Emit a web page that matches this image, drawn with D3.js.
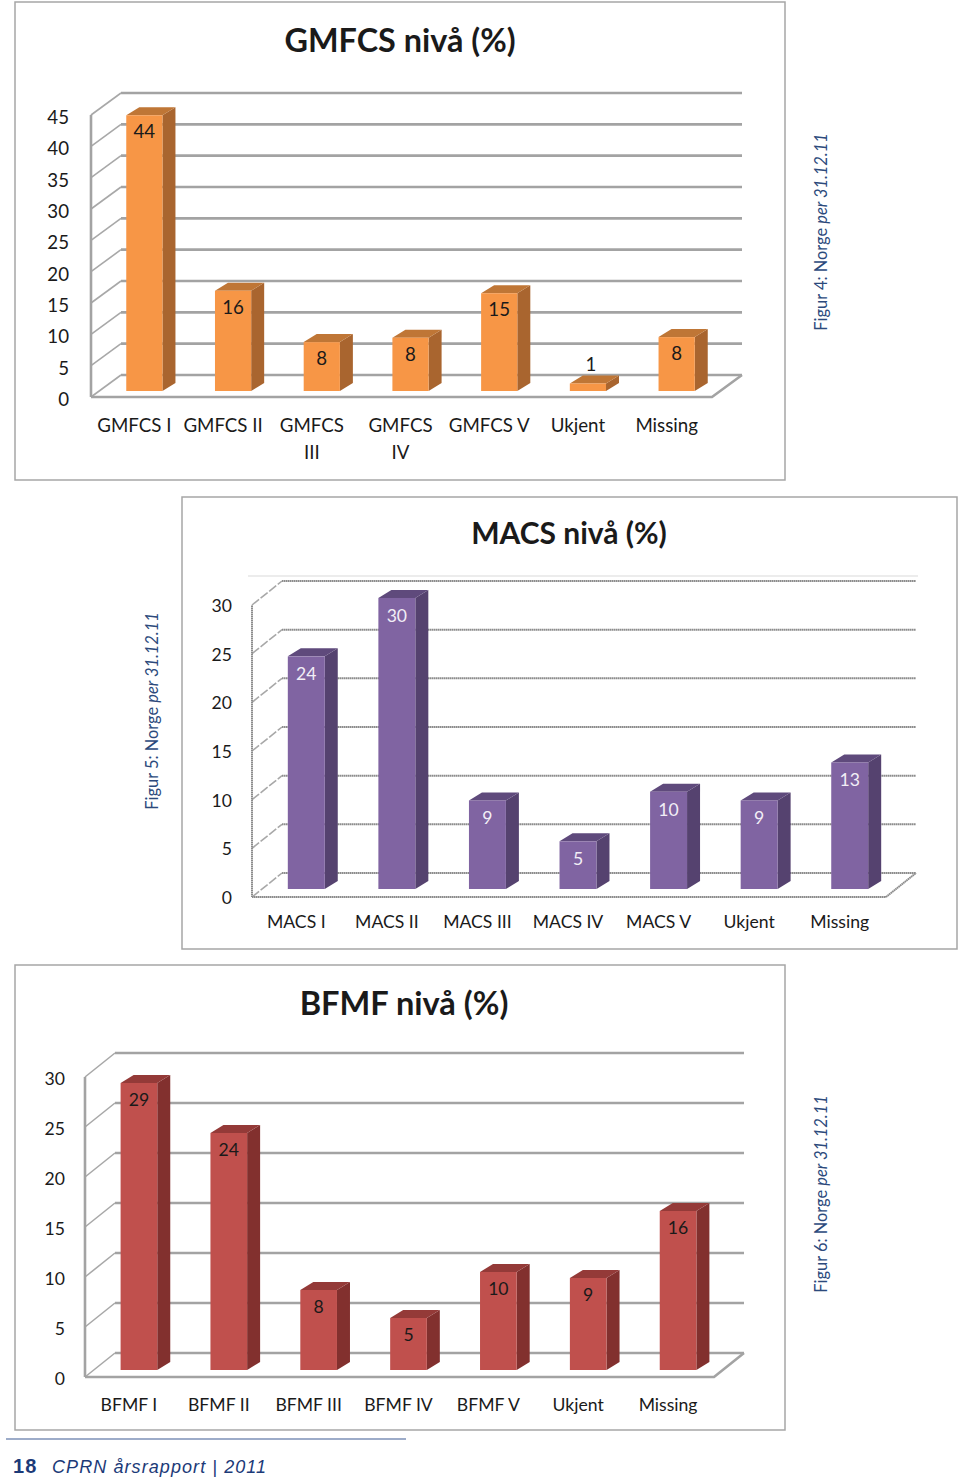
<!DOCTYPE html>
<html>
<head>
<meta charset="utf-8">
<script src="https://cdn.jsdelivr.net/npm/d3@7"></script>
<style>
  html, body { margin: 0; padding: 0; background: white; }
  text { font-family: Lato, "Open Sans", sans-serif; fill: #1a1a1a; }
</style>
</head>
<body>
<div id="root"></div>
<script>
const gmfcsCategories = ["GMFCS I", "GMFCS II", "GMFCS\nIII", "GMFCS\nIV", "GMFCS V", "Ukjent", "Missing"];
const gmfcsValues = [44, 16, 7.8, 8.5, 15.6, 1.2, 8.6];
const gmfcsLabels = ["44", "16", "8", "8", "15", "1", "8"];
const gmfcsTicks = [0, 5, 10, 15, 20, 25, 30, 35, 40, 45];

const macsCategories = ["MACS I", "MACS II", "MACS III", "MACS IV", "MACS V", "Ukjent", "Missing"];
const macsValues = [23.9, 29.9, 9.1, 4.9, 10, 9.1, 13];
const macsLabels = ["24", "30", "9", "5", "10", "9", "13"];
const macsTicks = [0, 5, 10, 15, 20, 25, 30];

const bfmfCategories = ["BFMF I", "BFMF II", "BFMF III", "BFMF IV", "BFMF V", "Ukjent", "Missing"];
const bfmfValues = [28.7, 23.7, 8, 5.2, 9.8, 9.2, 15.9];
const bfmfLabels = ["29", "24", "8", "5", "10", "9", "16"];
const bfmfTicks = [0, 5, 10, 15, 20, 25, 30];

const charts = [
  {
    title: "GMFCS nivå (%)", categories: gmfcsCategories, values: gmfcsValues, labels: gmfcsLabels, ticks: gmfcsTicks,
    frame: [15, 2, 770, 478], titleX: 400, titleY: 52, titleSize: 32.4, textSize: 18.7,
    x0: 91, x1: 712, y0: 397, yTop: 115, maxTick: 45, wallDx: 30, wallDy: 22, barLift: 6,
    tickX: 69, tickShift: 2.5, catY: 432, gridWidth: 2.6, gridColor: "#a3a3a3", gridDash: null, slantDash: null, labelColor: "#1a1a1a", labelDy: 23,
    front: "#f79646", side: "#a9652f", top: "#bf7636",
    caption: "Figur 4: Norge", captionX: 827, captionY: 232
  },
  {
    title: "MACS nivå (%)", categories: macsCategories, values: macsValues, labels: macsLabels, ticks: macsTicks,
    frame: [182, 497, 775, 452], titleX: 569, titleY: 544, titleSize: 30, textSize: 17.6,
    x0: 252, x1: 886, y0: 897, yTop: 605, maxTick: 30, wallDx: 30, wallDy: 24, barLift: 8,
    tickX: 232, tickShift: 1, catY: 928, gridWidth: 2, gridColor: "#8c8c8c", gridDash: "1.6 0.4", slantDash: "9 2", labelColor: "#f2eef6", labelDy: 24,
    front: "#8064a2", side: "#55426f", top: "#5f4a7c", ceiling: 576,
    caption: "Figur 5: Norge", captionX: 158, captionY: 711
  },
  {
    title: "BFMF nivå (%)", categories: bfmfCategories, values: bfmfValues, labels: bfmfLabels, ticks: bfmfTicks,
    frame: [15, 965, 770, 465], titleX: 404, titleY: 1015, titleSize: 32.6, textSize: 17.6,
    x0: 85, x1: 714, y0: 1377, yTop: 1077, maxTick: 30, wallDx: 30, wallDy: 24, barLift: 7,
    tickX: 65, tickShift: 2, catY: 1411, gridWidth: 2.6, gridColor: "#a3a3a3", gridDash: null, slantDash: null, labelColor: "#1a1a1a", labelDy: 23,
    front: "#c0504d", side: "#82302e", top: "#943a38",
    caption: "Figur 6: Norge", captionX: 827, captionY: 1194
  }
];

const svg = d3.select("#root").append("svg")
  .attr("width", 960)
  .attr("height", 1482)
  .style("display", "block");

charts.forEach(c => drawChart(svg, c));
drawFooter(svg);

function drawChart(svg, c) {
  const g = svg.append("g");

  g.append("rect")
    .attr("x", c.frame[0]).attr("y", c.frame[1])
    .attr("width", c.frame[2]).attr("height", c.frame[3])
    .attr("fill", "white").attr("stroke", "#a6a6a6").attr("stroke-width", 1.5);

  g.append("text")
    .text(c.title)
    .attr("x", c.titleX).attr("y", c.titleY)
    .attr("text-anchor", "middle")
    .style("font-size", c.titleSize + "px").style("font-weight", 700);

  const xScale = d3.scaleBand().domain(c.categories).range([c.x0, c.x1]).paddingInner(0.592).paddingOuter(0.296);
  const yScale = d3.scaleLinear().domain([0, c.maxTick]).range([c.y0, c.yTop]);

  walls(g, c, yScale);
  bars(g, c, xScale, yScale);
  axes(g, c, xScale, yScale);
  caption(g, c);
}

function walls(g, c, yScale) {
  const dx = c.wallDx, dy = c.wallDy;
  const grid = g.append("g").attr("fill", "none").attr("stroke", c.gridColor);

  // faint line over the plot, only the MACS chart has it
  if (c.ceiling) {
    grid.append("line")
      .attr("x1", c.x0 - 4).attr("x2", c.x1 + dx + 2)
      .attr("y1", c.ceiling).attr("y2", c.ceiling)
      .attr("stroke", "#e6e6e6").attr("stroke-width", 1.5);
  }

  // back wall lines, then the slanted ones on the side wall
  grid.selectAll("line.back").data(c.ticks).enter().append("line")
    .attr("class", "back")
    .attr("x1", c.x0 + dx).attr("x2", c.x1 + dx)
    .attr("y1", d => yScale(d) - dy).attr("y2", d => yScale(d) - dy)
    .attr("stroke-width", c.gridWidth)
    .attr("stroke-dasharray", c.gridDash);

  grid.selectAll("line.slant").data(c.ticks).enter().append("line")
    .attr("class", "slant")
    .attr("x1", c.x0).attr("x2", c.x0 + dx)
    .attr("y1", d => yScale(d)).attr("y2", d => yScale(d) - dy)
    .attr("stroke-width", 1.6)
    .attr("stroke", "#a8a8a8")
    .attr("stroke-dasharray", c.slantDash);

  grid.append("line")
    .attr("x1", c.x0).attr("x2", c.x0)
    .attr("y1", yScale(0)).attr("y2", yScale(c.maxTick))
    .attr("stroke-width", c.gridWidth)
    .attr("stroke-dasharray", c.gridDash);

  grid.append("path")
    .attr("d", `M${c.x0},${yScale(0)}H${c.x1}L${c.x1 + dx},${yScale(0) - dy}`)
    .attr("stroke-width", c.gridWidth)
    .attr("stroke-dasharray", c.gridDash);
}

function bars(g, c, xScale, yScale) {
  const rows = c.categories.map((name, i) => ({ name, value: c.values[i], label: c.labels[i] }));
  const barOffset = 9;
  const depthX = 13, depthY = 8;
  const bw = xScale.bandwidth();

  const bar = g.selectAll("g.bar").data(rows).enter().append("g").attr("class", "bar");
  const left = d => xScale(d.name) + barOffset;
  const base = yScale(0) - c.barLift;
  const top = d => yScale(d.value) - c.barLift;

  bar.append("path")
    .attr("fill", c.side)
    .attr("d", d => `M${left(d) + bw},${top(d)}l${depthX},${-depthY}V${base - depthY}l${-depthX},${depthY}Z`);

  bar.append("path")
    .attr("fill", c.top)
    .attr("d", d => `M${left(d)},${top(d)}l${depthX},${-depthY}h${bw}l${-depthX},${depthY}Z`);

  bar.append("rect")
    .attr("fill", c.front)
    .attr("x", left)
    .attr("y", top)
    .attr("width", bw)
    .attr("height", d => base - top(d));

  bar.append("text")
    .text(d => d.label)
    .attr("x", d => left(d) + bw / 2 + (d.value < 2 ? 3 : 0))
    .attr("y", d => d.value < 2 ? top(d) - 12 : top(d) + c.labelDy)
    .attr("text-anchor", "middle")
    .style("font-size", c.textSize + "px")
    .style("fill", c.labelColor);
}

function axes(g, c, xScale, yScale) {
  const yAxis = d3.axisLeft(yScale).tickValues(c.ticks).tickSize(0).tickPadding(0);
  const yG = g.append("g").attr("transform", `translate(${c.tickX}, ${c.tickShift})`).call(yAxis);
  yG.select(".domain").remove();
  yG.selectAll("text").style("font-size", c.textSize + "px").style("font-family", "Lato, sans-serif").attr("fill", "#1a1a1a");

  const xG = g.append("g");
  const cat = xG.selectAll("text").data(c.categories).enter().append("text")
    .attr("text-anchor", "middle")
    .style("font-size", c.textSize + "px");

  cat.selectAll("tspan").data(d => d.split("\n").map(line => ({ line, d }))).enter().append("tspan")
    .attr("x", t => xScale(t.d) + xScale.bandwidth() / 2 - 1)
    .attr("y", (t, i) => c.catY + i * 27)
    .text(t => t.line);
}

function caption(g, c) {
  const t = g.append("text")
    .attr("transform", `translate(${c.captionX}, ${c.captionY}) rotate(-90)`)
    .attr("text-anchor", "middle")
    .style("font-size", "16.4px");
  t.append("tspan").text(c.caption + " ").style("fill", "#2c4a7c");
  t.append("tspan").text("per 31.12.11").style("fill", "#2c4a7c").style("font-style", "italic");
}

function drawFooter(svg) {
  svg.append("line")
    .attr("x1", 6).attr("x2", 406)
    .attr("y1", 1439).attr("y2", 1439)
    .attr("stroke", "#3d5a94").attr("stroke-width", 1.2);

  svg.append("text")
    .text("18")
    .attr("x", 13).attr("y", 1473)
    .style("font-family", "'Liberation Sans', sans-serif")
    .style("font-size", "20px").style("font-weight", 700)
    .style("letter-spacing", "1.2px")
    .style("fill", "#1c3a78");

  svg.append("text")
    .text("CPRN årsrapport | 2011")
    .attr("x", 52).attr("y", 1473)
    .style("font-family", "'Liberation Sans', sans-serif")
    .style("font-size", "18px").style("font-style", "italic")
    .style("letter-spacing", "1.08px")
    .style("fill", "#1c3a78");
}
</script>
</body>
</html>
